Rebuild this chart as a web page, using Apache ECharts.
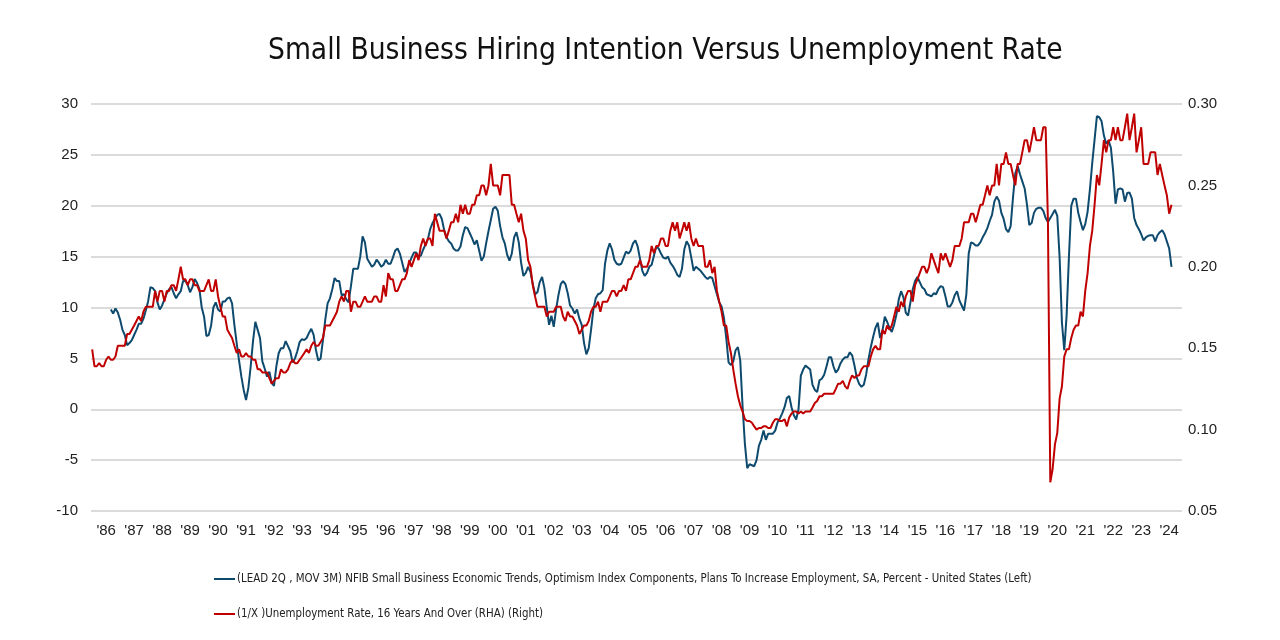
<!DOCTYPE html>
<html>
<head>
<meta charset="utf-8">
<script src="https://cdn.jsdelivr.net/npm/echarts/dist/echarts.min.js"></script>
<style>html,body{margin:0;padding:0;background:#fff}#chart{width:1280px;height:640px}</style>
</head>
<body>
<div id="chart"></div>
<script>
// Monthly categories, Jan 1986 .. Dec 2024
const firstYear = 1986, lastYear = 2024;
const months = [];
for (let y = firstYear; y <= lastYear; y++) {
  for (let m = 1; m <= 12; m++) months.push(y + '-' + String(m).padStart(2, '0'));
}

const titleText = 'Small Business Hiring Intention Versus Unemployment Rate';
const blueName = '(LEAD 2Q , MOV 3M) NFIB Small Business Economic Trends, Optimism Index Components, Plans To Increase Employment, SA, Percent - United States (Left)';
const redName = '(1/X )Unemployment Rate, 16 Years And Over (RHA) (Right)';

const leftTicks = { min: -10, max: 30, interval: 5 };
const rightTicks = { min: 0.05, max: 0.30, interval: 0.05 };

// NFIB hiring plans (lead 2Q, 3M avg), monthly from Jan 1986 (first 8 months empty)
const hiringPlans = [
  null, null, null, null, null, null, null, null, 9.8, 9.4, 9.9, 9.5,
  8.8, 7.8, 7.3, 6.3, 6.5, 6.8, 7.3, 7.8, 8.4, 8.4, 8.9, 9.7,
  10.6, 12.0, 11.9, 11.6, 10.5, 9.8, 10.2, 10.8, 11.4, 11.8, 12.0, 11.4,
  10.9, 11.3, 11.6, 12.6, 12.6, 12.2, 11.5, 12.0, 12.8, 12.4, 11.8, 10.0,
  9.1, 7.2, 7.3, 8.2, 10.0, 10.5, 9.8, 9.6, 10.6, 10.6, 10.9, 11.0,
  10.4, 8.3, 6.5, 4.8, 3.2, 1.9, 0.9, 2.1, 4.2, 6.7, 8.6, 7.8,
  7.0, 4.7, 4.0, 3.2, 3.7, 2.6, 2.3, 4.2, 5.5, 6.0, 6.0, 6.7,
  6.2, 5.7, 4.6, 5.0, 5.7, 6.6, 6.9, 6.8, 7.0, 7.5, 7.9, 7.3,
  5.8, 4.8, 5.0, 6.8, 8.8, 10.4, 10.9, 11.8, 12.9, 12.6, 12.6, 11.2,
  11.3, 10.8, 10.5, 12.1, 13.8, 13.8, 13.8, 15.0, 17.0, 16.4, 14.8, 14.4,
  14.0, 14.2, 14.7, 14.4, 14.0, 14.2, 14.7, 14.3, 14.3, 14.9, 15.6, 15.8,
  15.3, 14.4, 13.5, 13.8, 14.3, 14.9, 15.4, 15.4, 15.0, 15.1, 15.7, 16.2,
  16.7, 17.7, 18.3, 18.7, 19.1, 19.2, 18.7, 17.6, 16.9, 16.5, 16.3, 15.8,
  15.6, 15.6, 16.0, 17.1, 17.9, 17.8, 17.3, 16.8, 16.2, 16.6, 15.6, 14.6,
  15.0, 16.3, 17.5, 18.6, 19.7, 19.9, 19.5, 18.0, 16.9, 16.3, 15.2, 14.6,
  15.3, 16.9, 17.4, 16.4, 14.4, 13.1, 13.4, 14.0, 13.5, 12.3, 11.3, 11.5,
  12.5, 13.0, 11.9, 10.0, 8.3, 9.2, 8.1, 9.8, 11.2, 12.3, 12.6, 12.3,
  11.4, 10.2, 9.9, 9.4, 9.8, 8.9, 8.3, 6.5, 5.4, 6.0, 7.8, 9.8,
  10.9, 11.3, 11.4, 11.7, 14.3, 15.6, 16.3, 15.7, 14.7, 14.3, 14.2, 14.3,
  14.9, 15.5, 15.3, 15.6, 16.3, 16.6, 16.0, 14.8, 13.6, 13.1, 13.4, 14.0,
  14.2, 15.1, 16.0, 15.8, 15.3, 14.9, 14.8, 15.0, 14.4, 14.1, 13.7, 13.2,
  13.0, 13.8, 15.7, 16.5, 16.1, 14.9, 13.6, 14.0, 13.8, 13.6, 13.3, 13.0,
  12.8, 13.0, 12.9, 12.1, 11.3, 10.5, 10.1, 9.0, 7.0, 4.6, 4.35, 4.7,
  5.8, 6.1, 4.8, 0.3, -3.4, -5.8, -5.4, -5.5, -5.6, -5.0, -3.6, -3.0,
  -2.1, -3.0, -2.4, -2.4, -2.4, -2.1, -1.3, -0.9, -0.4, 0.2, 1.1, 1.3,
  0.2, -0.6, -1.0, 0.0, 3.3, 3.9, 4.3, 4.1, 3.9, 2.4, 1.9, 1.7,
  2.85, 3.0, 3.4, 4.2, 5.1, 5.1, 4.2, 3.6, 3.9, 4.5, 4.9, 5.1,
  5.1, 5.6, 5.3, 4.3, 3.1, 2.5, 2.2, 2.4, 3.4, 4.9, 6.1, 7.1,
  8.0, 8.5, 7.0, 7.7, 9.1, 8.6, 8.0, 7.6, 8.3, 9.3, 10.8, 11.6,
  11.0, 9.5, 9.2, 10.5, 11.8, 12.6, 13.0, 12.5, 12.0, 11.8, 11.3, 11.2,
  11.1, 11.4, 11.3, 11.8, 12.1, 12.0, 11.1, 10.1, 10.1, 10.5, 11.2, 11.6,
  10.7, 10.2, 9.7, 11.3, 15.3, 16.4, 16.3, 16.1, 16.1, 16.4, 16.9, 17.3,
  17.8, 18.5, 19.1, 20.4, 20.9, 20.5, 19.3, 18.7, 17.7, 17.4, 18.0, 20.8,
  23.2, 23.9, 23.1, 22.4, 21.7, 20.1, 18.1, 18.3, 19.3, 19.7, 19.8, 19.8,
  19.5, 18.8, 18.4, 18.8, 19.2, 19.6, 19.0, 14.9, 8.5, 5.8, 9.2, 15.0,
  20.0, 20.7, 20.7, 19.3, 18.4, 17.6, 18.2, 19.4, 21.6, 24.2, 26.5, 28.8,
  28.7, 28.3, 26.9, 26.1, 26.4, 25.7, 23.3, 20.2, 21.6, 21.7, 21.6, 20.4,
  21.25, 21.3, 20.7, 18.8, 18.1, 17.7, 17.2, 16.6, 16.9, 17.05, 17.1, 17.1,
  16.5, 17.1, 17.4, 17.6, 17.2, 16.5, 15.8, 14.0
];

// 1 / unemployment rate, monthly from Jan 1986
const invUnemployment = [
  .1493, .1389, .1389, .1408, .1389, .1389, .1429, .1449, .1429, .1429, .1449, .1515,
  .1515, .1515, .1515, .1587, .1587, .1613, .1639, .1667, .1695, .1667, .1724, .1754,
  .1754, .1754, .1754, .1852, .1786, .1852, .1852, .1786, .1852, .1852, .1887, .1887,
  .1852, .1923, .2000, .1923, .1923, .1887, .1923, .1923, .1887, .1887, .1852, .1852,
  .1852, .1887, .1923, .1852, .1852, .1923, .1818, .1754, .1695, .1695, .1613, .1587,
  .1563, .1515, .1471, .1493, .1449, .1449, .1471, .1449, .1449, .1429, .1429, .1370,
  .1370, .1351, .1351, .1351, .1316, .1282, .1299, .1316, .1316, .1370, .1351, .1351,
  .1370, .1408, .1429, .1408, .1408, .1429, .1449, .1471, .1493, .1471, .1515, .1538,
  .1515, .1515, .1538, .1563, .1639, .1639, .1639, .1667, .1695, .1724, .1786, .1818,
  .1786, .1852, .1852, .1724, .1786, .1786, .1754, .1754, .1786, .1818, .1786, .1786,
  .1786, .1818, .1818, .1786, .1786, .1887, .1818, .1961, .1923, .1923, .1852, .1852,
  .1887, .1923, .1923, .1961, .2041, .2000, .2041, .2083, .2041, .2128, .2174, .2128,
  .2174, .2174, .2128, .2326, .2273, .2222, .2222, .2222, .2174, .2222, .2273, .2273,
  .2326, .2273, .2381, .2326, .2381, .2326, .2326, .2381, .2381, .2439, .2439, .2500,
  .2500, .2439, .2500, .2632, .2500, .2500, .2500, .2439, .2564, .2564, .2564, .2564,
  .2381, .2381, .2326, .2273, .2326, .2222, .2174, .2041, .2000, .1887, .1818, .1754,
  .1754, .1754, .1754, .1695, .1724, .1724, .1724, .1754, .1754, .1754, .1695, .1667,
  .1724, .1695, .1695, .1667, .1639, .1587, .1613, .1639, .1639, .1667, .1724, .1754,
  .1754, .1786, .1724, .1786, .1786, .1786, .1818, .1852, .1852, .1818, .1852, .1852,
  .1887, .1852, .1923, .1923, .1961, .2000, .2000, .2041, .2000, .2000, .2000, .2041,
  .2128, .2083, .2128, .2128, .2174, .2174, .2128, .2128, .2222, .2273, .2222, .2273,
  .2174, .2222, .2273, .2222, .2273, .2174, .2128, .2174, .2128, .2128, .2128, .2000,
  .2000, .2041, .1961, .2000, .1852, .1786, .1724, .1639, .1639, .1538, .1471, .1370,
  .1282, .1205, .1149, .1111, .1064, .1053, .1053, .1042, .1020, .1000, .1010, .1010,
  .1020, .1020, .1010, .1010, .1042, .1064, .1064, .1053, .1053, .1064, .1020, .1075,
  .1099, .1111, .1111, .1099, .1111, .1099, .1111, .1111, .1111, .1136, .1163, .1176,
  .1205, .1205, .1220, .1220, .1220, .1220, .1220, .1250, .1282, .1282, .1299, .1266,
  .1250, .1299, .1333, .1316, .1333, .1333, .1370, .1389, .1389, .1389, .1449, .1493,
  .1515, .1493, .1493, .1613, .1587, .1639, .1613, .1639, .1695, .1754, .1724, .1786,
  .1754, .1818, .1852, .1852, .1786, .1887, .1923, .1961, .2000, .2000, .1961, .2000,
  .2083, .2041, .2000, .1961, .2083, .2041, .2083, .2041, .2000, .2041, .2128, .2128,
  .2128, .2174, .2273, .2273, .2273, .2326, .2326, .2273, .2326, .2381, .2381, .2439,
  .2500, .2439, .2500, .2500, .2632, .2500, .2632, .2632, .2703, .2632, .2632, .2564,
  .2500, .2632, .2632, .2703, .2778, .2778, .2703, .2778, .2857, .2778, .2778, .2778,
  .2857, .2857, .2273, .0676, .0758, .0909, .0980, .1190, .1266, .1449, .1493, .1493,
  .1563, .1613, .1639, .1639, .1724, .1695, .1852, .1961, .2128, .2222, .2381, .2564,
  .2500, .2632, .2778, .2703, .2778, .2778, .2857, .2778, .2857, .2778, .2778, .2857,
  .2941, .2778, .2857, .2941, .2703, .2778, .2857, .2632, .2632, .2632, .2703, .2703,
  .2703, .2564, .2632, .2564, .2500, .2439, .2326, .2381
];

const narrow = '"DejaVu Sans Condensed", "Liberation Sans Narrow", sans-serif';
const regular = '"Liberation Sans", Arial, sans-serif';

const chart = echarts.init(document.getElementById('chart'), null, { renderer: 'canvas' });
chart.setOption({
  animation: false,
  backgroundColor: '#ffffff',
  title: {
    text: titleText,
    left: 263,
    top: 31,
    textStyle: { fontFamily: narrow, fontSize: 29.6, fontWeight: 'normal', color: '#111111' }
  },
  legend: {
    orient: 'vertical',
    left: 209,
    top: 567,
    itemGap: 21,
    itemWidth: 21,
    itemHeight: 2,
    icon: 'rect',
    textStyle: { fontFamily: narrow, fontSize: 11.4, color: '#222222', lineHeight: 14, padding: [0, 0, 0, -3] },
    data: [blueName, redName]
  },
  grid: { left: 91, right: 98, top: 104, bottom: 129, containLabel: false },
  xAxis: {
    type: 'category',
    data: months,
    boundaryGap: true,
    axisLine: { show: false },
    axisTick: { show: false },
    splitLine: { show: false },
    axisLabel: {
      interval: function (i) { return i % 12 === 6; },
      formatter: function (v) { return "'" + v.slice(2, 4); },
      fontFamily: regular, fontSize: 15, color: '#222222', margin: 12
    }
  },
  yAxis: [
    {
      type: 'value',
      min: leftTicks.min, max: leftTicks.max, interval: leftTicks.interval,
      axisLine: { show: false }, axisTick: { show: false },
      splitLine: { show: true, lineStyle: { color: '#cfcfcf', width: 1.5 } },
      axisLabel: { fontFamily: regular, fontSize: 15, color: '#222222', margin: 13 }
    },
    {
      type: 'value',
      min: rightTicks.min, max: rightTicks.max, interval: rightTicks.interval,
      axisLine: { show: false }, axisTick: { show: false },
      splitLine: { show: false },
      axisLabel: {
        fontFamily: regular, fontSize: 15, color: '#222222', margin: 6,
        formatter: function (v) { return v.toFixed(2); }
      }
    }
  ],
  series: [
    {
      name: blueName, type: 'line', yAxisIndex: 0, data: hiringPlans,
      showSymbol: false, symbol: 'none', connectNulls: false,
      lineStyle: { color: '#0e4a6e', width: 2 }, itemStyle: { color: '#0e4a6e' }
    },
    {
      name: redName, type: 'line', yAxisIndex: 1, data: invUnemployment,
      showSymbol: false, symbol: 'none',
      lineStyle: { color: '#c00000', width: 2 }, itemStyle: { color: '#c00000' }
    }
  ]
});
</script>
</body>
</html>
